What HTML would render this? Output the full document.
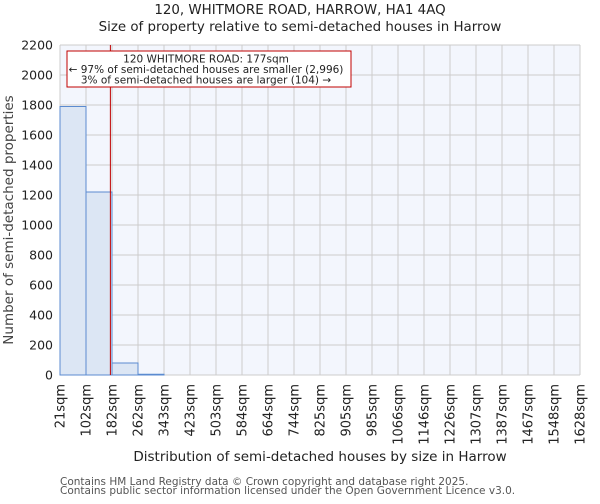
<!DOCTYPE html>
<html><head><meta charset="utf-8"><style>
body{margin:0;background:#fff;font-family:"DejaVu Sans","Liberation Sans",sans-serif}
svg text{font-family:"DejaVu Sans","Liberation Sans",sans-serif;fill:#222}
</style></head><body>
<svg id="c" width="600" height="500">
<text x="300" y="14" text-anchor="middle" font-size="13.4">120, WHITMORE ROAD, HARROW, HA1 4AQ</text>
<text x="300" y="31" text-anchor="middle" font-size="13.4">Size of property relative to semi-detached houses in Harrow</text>
<rect x="60" y="45" width="520" height="330" fill="#f3f6fd"/>
<g id="grid"></g><g id="bars"></g><g id="axes"></g>
<text x="320" y="461" text-anchor="middle" font-size="13.5">Distribution of semi-detached houses by size in Harrow</text>
<text transform="translate(13,220) rotate(-90)" text-anchor="middle" font-size="13.5" style="fill:#444">Number of semi-detached properties</text>
<text x="60" y="485" font-size="10.5" style="fill:#555">Contains HM Land Registry data © Crown copyright and database right 2025.</text>
<text x="60" y="494" font-size="10.5" style="fill:#555">Contains public sector information licensed under the Open Government Licence v3.0.</text>
</svg>
<script>
const binLabels=["21sqm","102sqm","182sqm","262sqm","343sqm","423sqm","503sqm","584sqm","664sqm","744sqm","825sqm","905sqm","985sqm","1066sqm","1146sqm","1226sqm","1307sqm","1387sqm","1467sqm","1548sqm","1628sqm"];
const binEdges=[21,102,182,262,343,423,503,584,664,744,825,905,985,1066,1146,1226,1307,1387,1467,1548,1628];
const counts=[1790,1220,80,5,0,0,0,0,0,0,0,0,0,0,0,0,0,0,0,0];
const yTicks=[0,200,400,600,800,1000,1200,1400,1600,1800,2000,2200];
const propertySize=177;
const NS="http://www.w3.org/2000/svg";
const L=60,R=580,T=45,B=375,yMax=2200;
const nb=counts.length;
const xi=i=>L+(R-L)*i/nb;
const xv=v=>{for(let i=0;i<nb;i++){if(v<=binEdges[i+1])return xi(i)+(v-binEdges[i])/(binEdges[i+1]-binEdges[i])*(R-L)/nb;}return R;};
const y=v=>B-(B-T)*v/yMax;
function mk(t,a,p){const e=document.createElementNS(NS,t);for(const k in a)e.setAttribute(k,a[k]);p.appendChild(e);return e;}
const g=document.getElementById('grid'),bg=document.getElementById('bars'),ax=document.getElementById('axes');
yTicks.forEach(v=>{const l=mk('line',{x1:L,x2:R,y1:y(v),y2:y(v),stroke:'#cccccc'},g);


const t=mk('text',{x:L-7,y:y(v)+4.5,'text-anchor':'end','font-size':'12.5'},ax);t.textContent=v;

});
binLabels.forEach((s,i)=>{const l=mk('line',{x1:xi(i),x2:xi(i),y1:T,y2:B,stroke:'#cccccc'},g);


const t=mk('text',{transform:`translate(${xi(i)+4.5},384) rotate(-90)`,'text-anchor':'end','font-size':'13'},ax);t.textContent=s;

});
counts.forEach((c,i)=>{const r=mk('rect',{x:xi(i),y:y(c),width:(R-L)/nb,height:B-y(c),fill:'#dce6f4',stroke:'#5b8bd0','stroke-width':1},bg);

});
const px=xv(propertySize);
const ml=mk('line',{x1:px,x2:px,y1:T,y2:B,stroke:'#c00000','stroke-width':1},ax);


const box=mk('rect',{x:67,y:51,width:284,height:36,fill:'#fff',stroke:'#c00000','stroke-width':1},ax);


["120 WHITMORE ROAD: 177sqm","← 97% of semi-detached houses are smaller (2,996)","3% of semi-detached houses are larger (104) →"].forEach((s,i)=>{
const t=mk('text',{x:206,y:62.5+i*10.5,'text-anchor':'middle','font-size':'10.5'},ax);t.textContent=s;

});
</script>
</body></html>
